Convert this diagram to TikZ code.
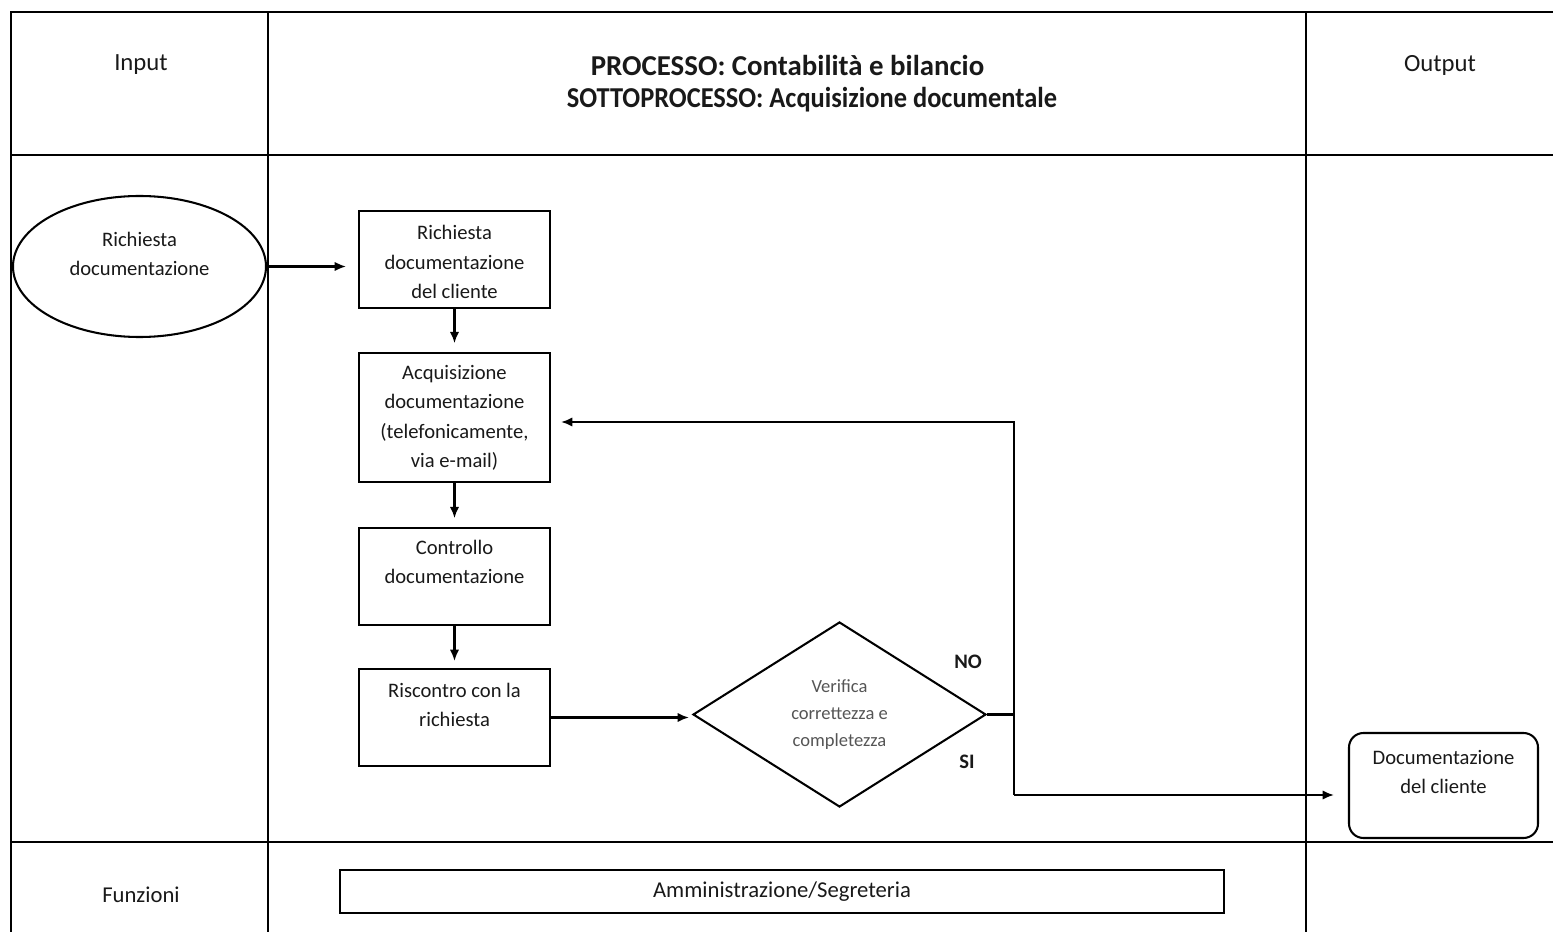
\documentclass[tikz,border=0pt]{standalone}
\usepackage{fontspec}
\setmainfont{Carlito}
\usetikzlibrary{shapes.geometric,arrows.meta}
\definecolor{txt}{RGB}{25,25,25}
\definecolor{dtxt}{RGB}{85,85,85}
\tikzset{
  ln/.style={line width=1pt,draw=black},
  stepbox/.style={ln,rectangle,inner sep=0pt,minimum width=92.72pt},
  bodytxt/.style={inner sep=0pt,align=center,text=txt,font=\fontsize{10}{14.3}\selectfont},
  headtxt/.style={inner sep=0pt,align=center,text=txt,font=\fontsize{12}{14.6}\selectfont},
  titletxt/.style={inner sep=0pt,text=txt,font=\bfseries\fontsize{14}{17}\selectfont},
  arr/.style={ln,-{Latex[length=5.5pt,width=4.6pt]}},
  lbl/.style={inner sep=0pt,text=txt,font=\bfseries\fontsize{10}{12}\selectfont}
}
\begin{document}
\begin{tikzpicture}[x=0.48544pt,y=-0.48544pt]
\useasboundingbox (0,0) rectangle (1553,932);
% frame / swimlanes
\draw[ln] (11,932) -- (11,12) -- (1553,12);
\draw[ln] (11,155) -- (1553,155);
\draw[ln] (11,842) -- (1553,842);
\draw[ln] (268,12) -- (268,932);
\draw[ln] (1306,12) -- (1306,932);
% headers
\node[headtxt] (hin) at (141,65) {Input};
\node[headtxt] (hout) at (1440,65) {Output};
\node[titletxt] (t1) at (787.5,65) {PROCESSO: Contabilità e bilancio};
\node[titletxt] (t2) at (812,100) {\scalebox{0.916}[1]{SOTTOPROCESSO: Acquisizione documentale}};
\node[inner sep=0pt,text=txt,font=\fontsize{11}{13}\selectfont] (hfun) at (141,895) {Funzioni};
% input ellipse
\node[ln,ellipse,inner sep=0pt,minimum width=122.82pt,minimum height=68.45pt] (ell) at (139.5,266.5) {};
\node[bodytxt] (ellt) at (139.5,254) {Richiesta\\documentazione};
% process boxes
\node[stepbox,minimum height=47.09pt] (b1) at (454.5,259.5) {};
\node[bodytxt] (b1t) at (454.5,262) {Richiesta\\documentazione\\del cliente};
\node[stepbox,minimum height=62.62pt] (b2) at (454.5,417.5) {};
\node[bodytxt] (b2t) at (454.5,418) {Acquisizione\\documentazione\\(telefonicamente,\\via e-mail)};
\node[stepbox,minimum height=47.09pt] (b3) at (454.5,576.5) {};
\node[bodytxt] (b3t) at (454.5,562) {Controllo\\documentazione};
\node[stepbox,minimum height=47.09pt] (b4) at (454.5,717.5) {};
\node[bodytxt] (b4t) at (454.5,705) {Riscontro con la\\richiesta};
% decision
\node[ln,diamond,inner sep=0pt,minimum width=142.23pt,minimum height=89.81pt] (dia) at (839.5,714.5) {};
\node[inner sep=0pt,align=center,text=dtxt,font=\fontsize{9}{13.1}\selectfont] (diat) at (839.5,715) {Verifica\\correttezza e\\completezza};
\node[lbl] (no) at (968,662) {NO};
\node[lbl] (si) at (967,762) {SI};
% output
\node[ln,rectangle,rounded corners=7pt,inner sep=0pt,minimum width=91.75pt,minimum height=50.97pt] (out) at (1443.5,785.5) {};
\node[bodytxt] (outt) at (1443.5,772) {Documentazione\\del cliente};
% functions bar
\node[ln,rectangle,inner sep=0pt,minimum width=429.13pt,minimum height=20.87pt,text=txt,font=\fontsize{11}{13}\selectfont] (fz) at (782,891.5) {Amministrazione/Segreteria};
% connectors
\coordinate (j1) at (1014,714.5);
\coordinate (j2) at (1014,422);
\coordinate (j3) at (1014,795);
\draw[arr,shorten >=5.8pt] (ell.east) -- (ell.east -| b1.west);
\draw[arr,shorten >=4.3pt] (b1.south) -- (b2.north);
\draw[arr,shorten >=4.3pt] (b2.south) -- (b3.north);
\draw[arr,shorten >=3.4pt] (b3.south) -- (b4.north);
\draw[arr,shorten >=1.5pt] (b4.east) -- (b4.east -| dia.west);
\draw[arr,shorten >=4.9pt] (dia.east) -- (j1) -- (j2) -- (j2 -| b2.east);
\draw[ln] (j1) -- (j3);
\draw[arr,shorten >=6.8pt] (j3) -- (j3 -| out.west);
\end{tikzpicture}
\end{document}
